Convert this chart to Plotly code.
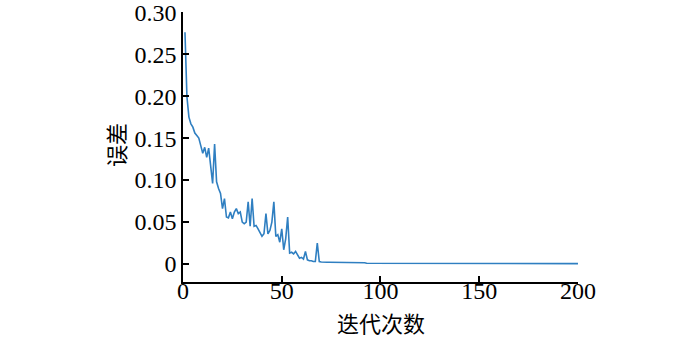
import plotly.graph_objects as go

# iteration -> error values
head = [
    0.276, 0.199, 0.175, 0.167, 0.163, 0.156, 0.153, 0.150, 0.141, 0.132,
    0.139, 0.127, 0.138, 0.112, 0.096, 0.143, 0.098, 0.090, 0.084, 0.066,
    0.078, 0.056, 0.055, 0.062, 0.054, 0.062, 0.066, 0.060, 0.062, 0.050,
    0.048, 0.050, 0.074, 0.045, 0.078, 0.045, 0.046, 0.042, 0.038, 0.033,
    0.036, 0.060, 0.036, 0.040, 0.050, 0.074, 0.033, 0.035, 0.026, 0.042,
    0.017, 0.030, 0.056, 0.013, 0.014, 0.012, 0.015, 0.010, 0.007, 0.008,
    0.006, 0.015, 0.005, 0.004, 0.004, 0.003, 0.003, 0.025, 0.003, 0.0025,
]
tail_a = [0.0022] * 8      # iterations 71-78
tail_b = [0.0016] * 14     # iterations 79-92
tail_c = [0.0010] * 63     # iterations 93-155
tail_d = [0.0005] * 45     # iterations 156-200
errors = head + tail_a + tail_b + tail_c + tail_d
iterations = list(range(1, len(errors) + 1))

x_ticks = [0, 50, 100, 150, 200]
y_ticks = [0, 0.05, 0.10, 0.15, 0.20, 0.25, 0.30]
y_tick_text = ["0", "0.05", "0.10", "0.15", "0.20", "0.25", "0.30"]
x_title = "迭代次数"
y_title = "误差"

fig = go.Figure()
fig.add_trace(go.Scatter(
    x=iterations, y=errors, mode="lines",
    line=dict(color="#2f7fc1", width=1.6),
    showlegend=False,
))

tick_font = dict(family="Liberation Serif", size=24, color="black")
title_font = dict(family="Noto Sans CJK SC", size=22, color="black")

fig.update_layout(
    width=700, height=337,
    margin=dict(l=183, r=122, t=12, b=55),
    paper_bgcolor="white", plot_bgcolor="white",
    xaxis=dict(
        range=[0, 200.01], tickvals=x_ticks, ticks="inside", ticklen=6,
        tickwidth=1.5, tickcolor="black", showline=True, linecolor="black",
        linewidth=1.5, showgrid=False, zeroline=False, tickfont=tick_font,
        automargin=False, ticklabelstandoff=-14, ticklabeloverflow="allow",
    ),
    yaxis=dict(
        range=[-0.0214, 0.3002], tickvals=y_ticks, ticktext=y_tick_text,
        ticks="inside", ticklen=6, tickwidth=1.5, tickcolor="black",
        showline=True, linecolor="black", linewidth=1.5, showgrid=False,
        zeroline=False, tickfont=tick_font, automargin=False,
        ticklabeloverflow="allow",
    ),
    annotations=[
        dict(text=x_title, xref="paper", yref="paper", x=0.5, y=0,
             xanchor="center", yanchor="middle", yshift=-40, borderpad=0,
             showarrow=False, font=title_font),
        dict(text=y_title, xref="paper", yref="paper", x=0, y=0.507,
             xanchor="center", yanchor="middle", xshift=-68, textangle=-90,
             borderpad=0, showarrow=False, font=title_font),
    ],
)

fig.write_html("out.html")
